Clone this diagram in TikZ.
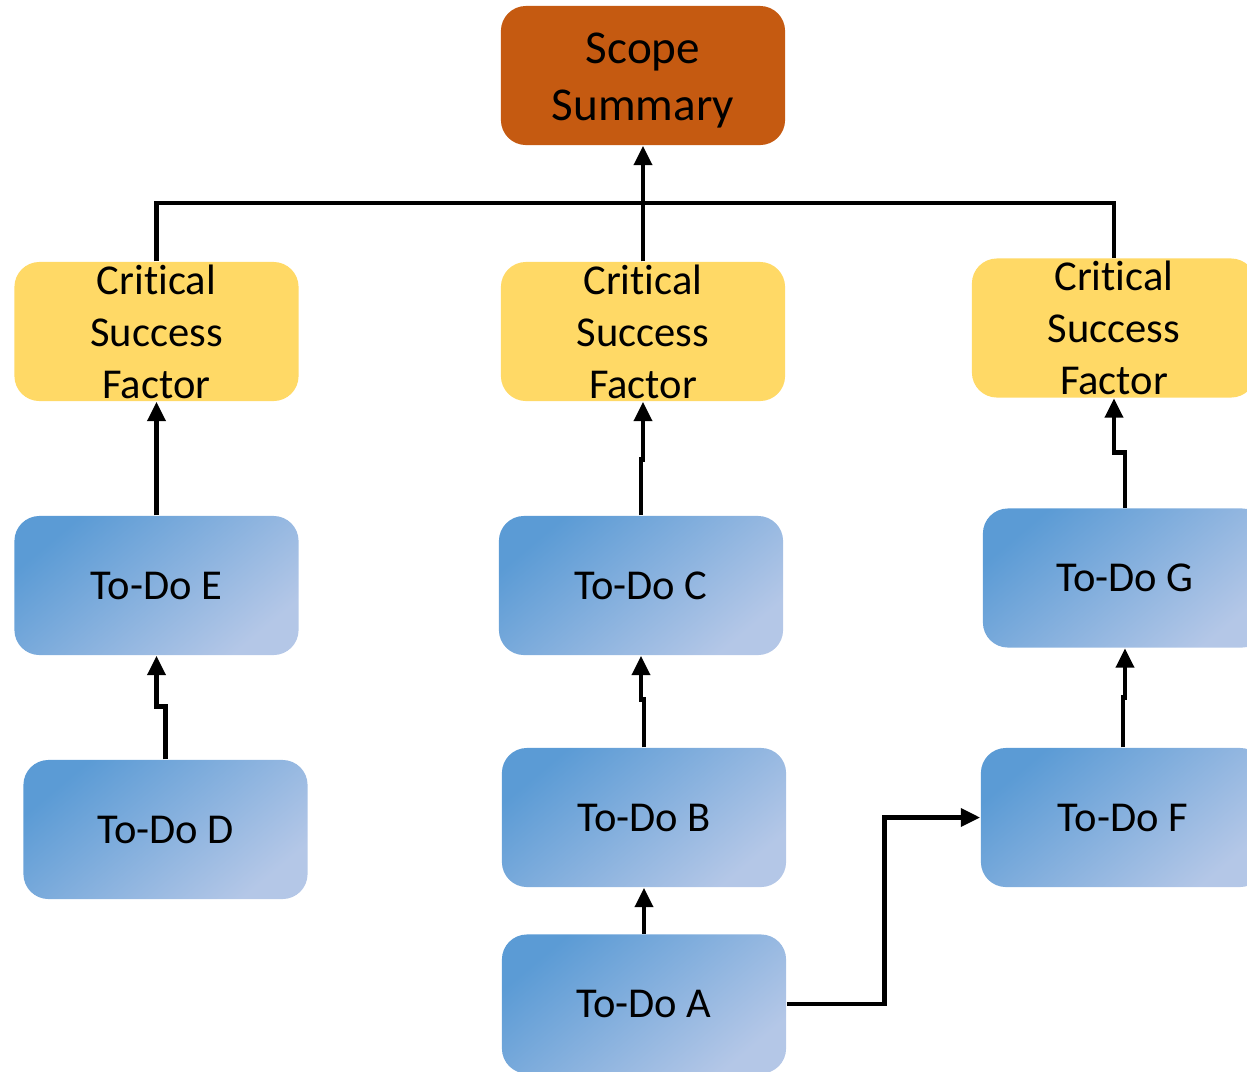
\documentclass[tikz,border=0pt]{standalone}
\usepackage{fontspec}
\setmainfont[RawFeature={-liga;-clig;-dlig}]{Carlito}
\usetikzlibrary{arrows.meta,calc}
\definecolor{scopeor}{HTML}{C55A11}
\definecolor{csfyel}{HTML}{FFD966}
\definecolor{tdtop}{HTML}{5B9BD5}
\definecolor{tdbot}{HTML}{B4C7E7}
\tikzset{
  box/.style={rounded corners=0.25cm, minimum width=2.84cm, minimum height=1.39cm, inner sep=0pt, align=center, text=black},
  scopebox/.style={box, fill=scopeor, font=\fontsize{13.4}{16.2}\selectfont},
  csfbox/.style={box, fill=csfyel, font=\fontsize{12.1}{14.8}\selectfont},
  todobox/.style={box, top color=tdtop, bottom color=tdbot, shading angle=40, font=\fontsize{12.1}{14.8}\selectfont},
  conn/.style={line width=1.35pt, draw=black},
  arr/.style={conn, -{Triangle[width=5pt,length=5.5pt]}},
}
\begin{document}
\begin{tikzpicture}[x=0.01cm,y=-0.01cm]
\useasboundingbox (0,0) rectangle (1247,1072);
\clip (0,0) rectangle (1247,1072);
\node[scopebox, label={[align=center, yshift=-0.05cm, font=\fontsize{13.4}{16.2}\selectfont]center:Scope\\Summary}] (S) at (643,75.5) {};
\node[csfbox] (C1) at (156.5,331.5) {Critical\\Success\\Factor};
\node[csfbox] (C2) at (643,331.5) {Critical\\Success\\Factor};
\node[csfbox] (C3) at (1114,328) {Critical\\Success\\Factor};
\node[todobox] (E) at (156.5,585.5) {To-Do E};
\node[todobox] (Cc) at (641,585.5) {To-Do C};
\node[todobox] (G) at (1125,578) {To-Do G};
\node[todobox] (D) at (165.5,829.5) {To-Do D};
\node[todobox] (B) at (644,817.5) {To-Do B};
\node[todobox] (F) at (1123,817.5) {To-Do F};
\node[todobox] (A) at (644,1004) {To-Do A};
\coordinate (bus) at (643,203);
% bus to scope
\draw[conn] (C1.north) -- (C1.north |- bus) -- (C3.north |- bus) -- (C3.north);
\draw[conn] (C2.north) -- (C2.north |- bus);
\draw[arr] (S.south |- bus) -- (S.south);
% columns
\draw[arr] (E.north) -- (C1.south);
\draw[arr] (D.north) -- ++(0,-53) -| (E.south);
\draw[arr] (Cc.north) -- ++(0,-56) -| (C2.south);
\draw[arr] (B.north) -- ++(0,-48) -| (Cc.south);
\draw[arr] (A.north) -- (B.south);
\draw[arr] (G.north) -- ++(0,-55) -| (C3.south);
\draw[arr] (F.north) -- ++(0,-50) -| (G.south);
\draw[arr] (A.east) -- ++(98,0) |- (F.west);
\end{tikzpicture}
\end{document}
